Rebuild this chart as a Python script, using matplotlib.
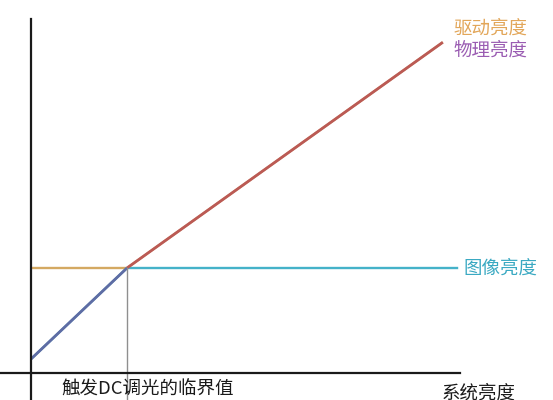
import numpy as np
import matplotlib
matplotlib.use("Agg")
import matplotlib.pyplot as plt

plt.rcParams['font.family'] = ['Noto Sans CJK SC', 'DejaVu Sans']

# system brightness (x) and the three brightness curves, threshold at x = 1
drive_x = [0, 1, 4.29]
drive_y = [1, 1, 3.15]
phys_x = [0, 1, 4.29]
phys_y = [0.133, 1, 3.15]
image_x = [0, 1, 4.45]
image_y = [0.133, 1, 1]
threshold = 1

lab_drive = '驱动亮度'
lab_phys = '物理亮度'
lab_image = '图像亮度'
lab_thresh = '触发DC调光的临界值'
lab_x = '系统亮度'

fig = plt.figure(figsize=(5.53, 4.0), dpi=100)
ax = fig.add_axes([0, 0, 1, 1])
ax.set_xlim(-0.3229, 5.4375)
ax.set_ylim(-0.2571, 3.5524)

c_drive = '#d4a962'
c_phys_lo = '#5f6ca4'
c_phys_hi = '#bb5a55'
c_image = '#45b2c9'

ax.plot(drive_x, drive_y, color=c_drive, lw=1.7, solid_capstyle='butt')
ax.plot(image_x, image_y, color=c_image, lw=1.7, solid_capstyle='butt')
# physical brightness overlays the other two: blueish below threshold, reddish above
ax.plot(phys_x[:2], phys_y[:2], color=c_phys_lo, lw=2.0, solid_capstyle='butt')
ax.plot(phys_x[1:], phys_y[1:], color=c_phys_hi, lw=2.0, solid_capstyle='butt')

ax.plot([threshold, threshold], [drive_y[1], -0.2571], color='#8f8f8f', lw=1)

for s in ['top', 'right']:
    ax.spines[s].set_visible(False)
ax.spines['left'].set_position(('data', 0))
ax.spines['bottom'].set_position(('data', 0))
ax.spines['left'].set_bounds(-0.2571, 3.371)
ax.spines['bottom'].set_bounds(-0.3229, 4.469)
for s in ['left', 'bottom']:
    ax.spines[s].set_linewidth(1.6)
    ax.spines[s].set_color('#1a1a1a')
ax.set_xticks([])
ax.set_yticks([])
ax.patch.set_alpha(0)

ax.text(4.40, 3.276, lab_drive, color='#e2a659', fontsize=13.3, va='center', ha='left')
ax.text(4.40, 3.067, lab_phys, color='#9a5cb2', fontsize=13.3, va='center', ha='left')
ax.text(4.50, 0.99, lab_image, color='#3aa9c2', fontsize=13.3, va='center', ha='left')
ax.text(1.21, -0.162, lab_thresh, color='#1a1a1a', fontsize=13.3, va='center', ha='center')
ax.text(4.28, -0.20, lab_x, color='#1a1a1a', fontsize=13.3, va='center', ha='left')

fig.savefig('out.png', dpi=100)
